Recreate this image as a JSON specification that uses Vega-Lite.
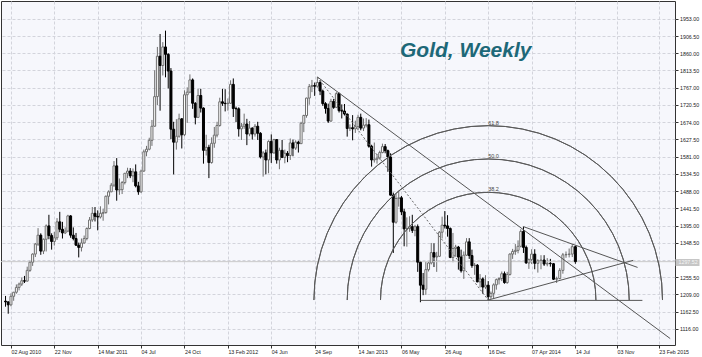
{
"$schema": "https://vega.github.io/schema/vega-lite/v6.json",
"width": 674, "height": 344,
"autosize": {"type": "none"},
"padding": {"left": 1, "top": 1, "right": 27, "bottom": 12},
"background": "#ffffff",
"config": {"view": {"stroke": "#333333", "strokeWidth": 1, "fill": "#f6f7fc"}, "font": "Liberation Sans", "axis": {"labelOverlap": false}},
"title": {"text": "Gold, Weekly", "anchor": "start", "frame": "group", "orient": "top", "offset": 0, "dx": 399, "dy": 77, "baseline": "alphabetic", "font": "Liberation Sans", "fontSize": 21, "fontWeight": "bold", "fontStyle": "italic", "color": "#1d6878"},
"resolve": {"scale": {"y": "independent"}, "axis": {"y": "independent"}},
"datasets": {
"candles": [
{"d":"2010-07-19","o":1191,"h":1205,"l":1176,"c":1189},
{"d":"2010-07-26","o":1189,"h":1190,"l":1157,"c":1181},
{"d":"2010-08-02","o":1181,"h":1212,"l":1177,"c":1204},
{"d":"2010-08-09","o":1204,"h":1216,"l":1192,"c":1215},
{"d":"2010-08-16","o":1215,"h":1236,"l":1211,"c":1228},
{"d":"2010-08-23","o":1228,"h":1241,"l":1220,"c":1237},
{"d":"2010-08-30","o":1237,"h":1255,"l":1232,"c":1246},
{"d":"2010-09-06","o":1246,"h":1259,"l":1240,"c":1245},
{"d":"2010-09-13","o":1245,"h":1284,"l":1244,"c":1274},
{"d":"2010-09-20","o":1274,"h":1300,"l":1270,"c":1296},
{"d":"2010-09-27","o":1296,"h":1320,"l":1286,"c":1318},
{"d":"2010-10-04","o":1318,"h":1348,"l":1310,"c":1345},
{"d":"2010-10-11","o":1345,"h":1388,"l":1340,"c":1369},
{"d":"2010-10-18","o":1369,"h":1374,"l":1316,"c":1326},
{"d":"2010-10-25","o":1326,"h":1360,"l":1318,"c":1358},
{"d":"2010-11-01","o":1358,"h":1398,"l":1325,"c":1394},
{"d":"2010-11-08","o":1394,"h":1424,"l":1358,"c":1368},
{"d":"2010-11-15","o":1368,"h":1374,"l":1330,"c":1352},
{"d":"2010-11-22","o":1352,"h":1378,"l":1341,"c":1362},
{"d":"2010-11-29","o":1362,"h":1415,"l":1356,"c":1405},
{"d":"2010-12-06","o":1405,"h":1432,"l":1377,"c":1385},
{"d":"2010-12-13","o":1385,"h":1405,"l":1360,"c":1375},
{"d":"2010-12-20","o":1375,"h":1390,"l":1372,"c":1380},
{"d":"2010-12-27","o":1380,"h":1424,"l":1377,"c":1421},
{"d":"2011-01-03","o":1421,"h":1423,"l":1362,"c":1369},
{"d":"2011-01-10","o":1369,"h":1390,"l":1355,"c":1360},
{"d":"2011-01-17","o":1360,"h":1375,"l":1340,"c":1342},
{"d":"2011-01-24","o":1342,"h":1349,"l":1309,"c":1336},
{"d":"2011-01-31","o":1336,"h":1360,"l":1325,"c":1348},
{"d":"2011-02-07","o":1348,"h":1368,"l":1346,"c":1360},
{"d":"2011-02-14","o":1360,"h":1390,"l":1355,"c":1387},
{"d":"2011-02-21","o":1387,"h":1418,"l":1385,"c":1410},
{"d":"2011-02-28","o":1410,"h":1445,"l":1405,"c":1428},
{"d":"2011-03-07","o":1428,"h":1445,"l":1406,"c":1420},
{"d":"2011-03-14","o":1420,"h":1436,"l":1382,"c":1418},
{"d":"2011-03-21","o":1418,"h":1447,"l":1414,"c":1428},
{"d":"2011-03-28","o":1428,"h":1440,"l":1408,"c":1430},
{"d":"2011-04-04","o":1430,"h":1476,"l":1427,"c":1474},
{"d":"2011-04-11","o":1474,"h":1490,"l":1452,"c":1486},
{"d":"2011-04-18","o":1486,"h":1510,"l":1485,"c":1504},
{"d":"2011-04-25","o":1504,"h":1569,"l":1499,"c":1556},
{"d":"2011-05-02","o":1556,"h":1577,"l":1462,"c":1491},
{"d":"2011-05-09","o":1491,"h":1522,"l":1478,"c":1492},
{"d":"2011-05-16","o":1492,"h":1515,"l":1480,"c":1511},
{"d":"2011-05-23","o":1511,"h":1537,"l":1506,"c":1536},
{"d":"2011-05-30","o":1536,"h":1551,"l":1523,"c":1542},
{"d":"2011-06-06","o":1542,"h":1550,"l":1523,"c":1529},
{"d":"2011-06-13","o":1529,"h":1549,"l":1512,"c":1540},
{"d":"2011-06-20","o":1540,"h":1560,"l":1498,"c":1502},
{"d":"2011-06-27","o":1502,"h":1513,"l":1478,"c":1486},
{"d":"2011-07-04","o":1486,"h":1546,"l":1483,"c":1542},
{"d":"2011-07-11","o":1542,"h":1600,"l":1540,"c":1594},
{"d":"2011-07-18","o":1594,"h":1610,"l":1582,"c":1601},
{"d":"2011-07-25","o":1601,"h":1632,"l":1598,"c":1625},
{"d":"2011-08-01","o":1625,"h":1680,"l":1610,"c":1663},
{"d":"2011-08-08","o":1663,"h":1814,"l":1662,"c":1743},
{"d":"2011-08-15","o":1743,"h":1877,"l":1720,"c":1852},
{"d":"2011-08-22","o":1852,"h":1912,"l":1705,"c":1827},
{"d":"2011-08-29","o":1827,"h":1890,"l":1800,"c":1877},
{"d":"2011-09-05","o":1877,"h":1921,"l":1795,"c":1857},
{"d":"2011-09-12","o":1857,"h":1860,"l":1765,"c":1812},
{"d":"2011-09-19","o":1812,"h":1820,"l":1628,"c":1655},
{"d":"2011-09-26","o":1655,"h":1675,"l":1533,"c":1620},
{"d":"2011-10-03","o":1620,"h":1682,"l":1600,"c":1636},
{"d":"2011-10-10","o":1636,"h":1697,"l":1632,"c":1683},
{"d":"2011-10-17","o":1683,"h":1685,"l":1603,"c":1640},
{"d":"2011-10-24","o":1640,"h":1760,"l":1636,"c":1748},
{"d":"2011-10-31","o":1748,"h":1768,"l":1672,"c":1755},
{"d":"2011-11-07","o":1755,"h":1803,"l":1752,"c":1788},
{"d":"2011-11-14","o":1788,"h":1792,"l":1710,"c":1725},
{"d":"2011-11-21","o":1725,"h":1728,"l":1668,"c":1687},
{"d":"2011-11-28","o":1687,"h":1764,"l":1686,"c":1746},
{"d":"2011-12-05","o":1746,"h":1764,"l":1700,"c":1712},
{"d":"2011-12-12","o":1712,"h":1714,"l":1562,"c":1598},
{"d":"2011-12-19","o":1598,"h":1640,"l":1584,"c":1606},
{"d":"2011-12-26","o":1606,"h":1613,"l":1523,"c":1565},
{"d":"2012-01-02","o":1565,"h":1633,"l":1562,"c":1617},
{"d":"2012-01-09","o":1617,"h":1661,"l":1605,"c":1639},
{"d":"2012-01-16","o":1639,"h":1675,"l":1633,"c":1665},
{"d":"2012-01-23","o":1665,"h":1740,"l":1662,"c":1729},
{"d":"2012-01-30","o":1729,"h":1764,"l":1718,"c":1725},
{"d":"2012-02-06","o":1725,"h":1763,"l":1703,"c":1724},
{"d":"2012-02-13","o":1724,"h":1738,"l":1705,"c":1725},
{"d":"2012-02-20","o":1725,"h":1787,"l":1724,"c":1776},
{"d":"2012-02-27","o":1776,"h":1792,"l":1688,"c":1711},
{"d":"2012-03-05","o":1711,"h":1716,"l":1674,"c":1710},
{"d":"2012-03-12","o":1710,"h":1714,"l":1635,"c":1656},
{"d":"2012-03-19","o":1656,"h":1672,"l":1626,"c":1663},
{"d":"2012-03-26","o":1663,"h":1697,"l":1656,"c":1669},
{"d":"2012-04-02","o":1669,"h":1683,"l":1612,"c":1642},
{"d":"2012-04-09","o":1642,"h":1677,"l":1636,"c":1658},
{"d":"2012-04-16","o":1658,"h":1660,"l":1627,"c":1642},
{"d":"2012-04-23","o":1642,"h":1669,"l":1635,"c":1663},
{"d":"2012-04-30","o":1663,"h":1675,"l":1626,"c":1644},
{"d":"2012-05-07","o":1644,"h":1647,"l":1576,"c":1580},
{"d":"2012-05-14","o":1580,"h":1596,"l":1527,"c":1591},
{"d":"2012-05-21","o":1591,"h":1600,"l":1533,"c":1572},
{"d":"2012-05-28","o":1572,"h":1625,"l":1536,"c":1622},
{"d":"2012-06-04","o":1622,"h":1641,"l":1564,"c":1591},
{"d":"2012-06-11","o":1591,"h":1629,"l":1589,"c":1627},
{"d":"2012-06-18","o":1627,"h":1628,"l":1562,"c":1572},
{"d":"2012-06-25","o":1572,"h":1605,"l":1547,"c":1598},
{"d":"2012-07-02","o":1598,"h":1626,"l":1577,"c":1579},
{"d":"2012-07-09","o":1579,"h":1600,"l":1563,"c":1590},
{"d":"2012-07-16","o":1590,"h":1596,"l":1566,"c":1584},
{"d":"2012-07-23","o":1584,"h":1630,"l":1572,"c":1618},
{"d":"2012-07-30","o":1618,"h":1627,"l":1582,"c":1604},
{"d":"2012-08-06","o":1604,"h":1625,"l":1599,"c":1620},
{"d":"2012-08-13","o":1620,"h":1624,"l":1592,"c":1616},
{"d":"2012-08-20","o":1616,"h":1675,"l":1615,"c":1671},
{"d":"2012-08-27","o":1671,"h":1694,"l":1647,"c":1692},
{"d":"2012-09-03","o":1692,"h":1740,"l":1686,"c":1739},
{"d":"2012-09-10","o":1739,"h":1777,"l":1721,"c":1770},
{"d":"2012-09-17","o":1770,"h":1788,"l":1755,"c":1773},
{"d":"2012-09-24","o":1773,"h":1781,"l":1745,"c":1771},
{"d":"2012-10-01","o":1771,"h":1796,"l":1767,"c":1781},
{"d":"2012-10-08","o":1781,"h":1787,"l":1747,"c":1758},
{"d":"2012-10-15","o":1758,"h":1762,"l":1718,"c":1724},
{"d":"2012-10-22","o":1724,"h":1728,"l":1697,"c":1711},
{"d":"2012-10-29","o":1711,"h":1724,"l":1672,"c":1677},
{"d":"2012-11-05","o":1677,"h":1737,"l":1675,"c":1730},
{"d":"2012-11-12","o":1730,"h":1737,"l":1710,"c":1714},
{"d":"2012-11-19","o":1714,"h":1755,"l":1712,"c":1751},
{"d":"2012-11-26","o":1751,"h":1754,"l":1700,"c":1705},
{"d":"2012-12-03","o":1705,"h":1722,"l":1684,"c":1704},
{"d":"2012-12-10","o":1704,"h":1723,"l":1692,"c":1696},
{"d":"2012-12-17","o":1696,"h":1697,"l":1635,"c":1657},
{"d":"2012-12-24","o":1657,"h":1668,"l":1650,"c":1659},
{"d":"2012-12-31","o":1659,"h":1693,"l":1625,"c":1656},
{"d":"2013-01-07","o":1656,"h":1678,"l":1645,"c":1662},
{"d":"2013-01-14","o":1662,"h":1694,"l":1652,"c":1687},
{"d":"2013-01-21","o":1687,"h":1697,"l":1652,"c":1658},
{"d":"2013-01-28","o":1658,"h":1684,"l":1650,"c":1666},
{"d":"2013-02-04","o":1666,"h":1685,"l":1660,"c":1667},
{"d":"2013-02-11","o":1667,"h":1681,"l":1605,"c":1609},
{"d":"2013-02-18","o":1609,"h":1613,"l":1554,"c":1572},
{"d":"2013-02-25","o":1572,"h":1619,"l":1565,"c":1574},
{"d":"2013-03-04","o":1574,"h":1588,"l":1562,"c":1577},
{"d":"2013-03-11","o":1577,"h":1597,"l":1573,"c":1592},
{"d":"2013-03-18","o":1592,"h":1616,"l":1590,"c":1608},
{"d":"2013-03-25","o":1608,"h":1615,"l":1590,"c":1597},
{"d":"2013-04-01","o":1597,"h":1600,"l":1540,"c":1580},
{"d":"2013-04-08","o":1580,"h":1590,"l":1476,"c":1477},
{"d":"2013-04-15","o":1477,"h":1484,"l":1321,"c":1404},
{"d":"2013-04-22","o":1404,"h":1480,"l":1400,"c":1468},
{"d":"2013-04-29","o":1468,"h":1488,"l":1446,"c":1470},
{"d":"2013-05-06","o":1470,"h":1475,"l":1423,"c":1432},
{"d":"2013-05-13","o":1432,"h":1440,"l":1339,"c":1386},
{"d":"2013-05-20","o":1386,"h":1417,"l":1338,"c":1387},
{"d":"2013-05-27","o":1387,"h":1420,"l":1378,"c":1392},
{"d":"2013-06-03","o":1392,"h":1424,"l":1375,"c":1382},
{"d":"2013-06-10","o":1382,"h":1397,"l":1366,"c":1392},
{"d":"2013-06-17","o":1392,"h":1398,"l":1270,"c":1296},
{"d":"2013-06-24","o":1296,"h":1298,"l":1188,"c":1234},
{"d":"2013-07-01","o":1234,"h":1267,"l":1207,"c":1223},
{"d":"2013-07-08","o":1223,"h":1297,"l":1208,"c":1276},
{"d":"2013-07-15","o":1276,"h":1298,"l":1271,"c":1294},
{"d":"2013-07-22","o":1294,"h":1348,"l":1290,"c":1322},
{"d":"2013-07-29","o":1322,"h":1347,"l":1283,"c":1310},
{"d":"2013-08-05","o":1310,"h":1324,"l":1270,"c":1312},
{"d":"2013-08-12","o":1312,"h":1380,"l":1310,"c":1377},
{"d":"2013-08-19","o":1377,"h":1419,"l":1360,"c":1396},
{"d":"2013-08-26","o":1396,"h":1434,"l":1387,"c":1394},
{"d":"2013-09-02","o":1394,"h":1423,"l":1365,"c":1387},
{"d":"2013-09-09","o":1387,"h":1390,"l":1307,"c":1309},
{"d":"2013-09-16","o":1309,"h":1375,"l":1296,"c":1333},
{"d":"2013-09-23","o":1333,"h":1343,"l":1311,"c":1337},
{"d":"2013-09-30","o":1337,"h":1340,"l":1276,"c":1310},
{"d":"2013-10-07","o":1310,"h":1330,"l":1268,"c":1273},
{"d":"2013-10-14","o":1273,"h":1325,"l":1251,"c":1315},
{"d":"2013-10-21","o":1315,"h":1361,"l":1313,"c":1351},
{"d":"2013-10-28","o":1351,"h":1361,"l":1305,"c":1314},
{"d":"2013-11-04","o":1314,"h":1330,"l":1281,"c":1287},
{"d":"2013-11-11","o":1287,"h":1294,"l":1262,"c":1288},
{"d":"2013-11-18","o":1288,"h":1291,"l":1242,"c":1243},
{"d":"2013-11-25","o":1243,"h":1264,"l":1228,"c":1251},
{"d":"2013-12-02","o":1251,"h":1255,"l":1211,"c":1229},
{"d":"2013-12-09","o":1229,"h":1261,"l":1224,"c":1234},
{"d":"2013-12-16","o":1234,"h":1245,"l":1194,"c":1203},
{"d":"2013-12-23","o":1203,"h":1217,"l":1197,"c":1212},
{"d":"2013-12-30","o":1212,"h":1239,"l":1199,"c":1235},
{"d":"2014-01-06","o":1235,"h":1252,"l":1222,"c":1249},
{"d":"2014-01-13","o":1249,"h":1255,"l":1236,"c":1252},
{"d":"2014-01-20","o":1252,"h":1271,"l":1245,"c":1265},
{"d":"2014-01-27","o":1265,"h":1271,"l":1238,"c":1241},
{"d":"2014-02-03","o":1241,"h":1270,"l":1238,"c":1263},
{"d":"2014-02-10","o":1263,"h":1320,"l":1260,"c":1318},
{"d":"2014-02-17","o":1318,"h":1332,"l":1305,"c":1325},
{"d":"2014-02-24","o":1325,"h":1345,"l":1316,"c":1328},
{"d":"2014-03-03","o":1328,"h":1355,"l":1320,"c":1339},
{"d":"2014-03-10","o":1339,"h":1385,"l":1336,"c":1379},
{"d":"2014-03-17","o":1379,"h":1392,"l":1321,"c":1336},
{"d":"2014-03-24","o":1336,"h":1341,"l":1292,"c":1294},
{"d":"2014-03-31","o":1294,"h":1306,"l":1278,"c":1303},
{"d":"2014-04-07","o":1303,"h":1331,"l":1291,"c":1318},
{"d":"2014-04-14","o":1318,"h":1331,"l":1277,"c":1293},
{"d":"2014-04-21","o":1293,"h":1304,"l":1268,"c":1300},
{"d":"2014-04-28","o":1300,"h":1315,"l":1277,"c":1302},
{"d":"2014-05-05","o":1302,"h":1315,"l":1286,"c":1291},
{"d":"2014-05-12","o":1291,"h":1307,"l":1285,"c":1293},
{"d":"2014-05-19","o":1293,"h":1305,"l":1284,"c":1292},
{"d":"2014-05-26","o":1292,"h":1294,"l":1248,"c":1250},
{"d":"2014-06-02","o":1250,"h":1257,"l":1240,"c":1252},
{"d":"2014-06-09","o":1252,"h":1280,"l":1250,"c":1274},
{"d":"2014-06-16","o":1274,"h":1321,"l":1265,"c":1316},
{"d":"2014-06-23","o":1316,"h":1325,"l":1308,"c":1317},
{"d":"2014-06-30","o":1317,"h":1333,"l":1309,"c":1318},
{"d":"2014-07-07","o":1318,"h":1345,"l":1310,"c":1338},
{"d":"2014-07-14","o":1338,"h":1341,"l":1292,"c":1297.52}
],
"trend": [
{"id":"resistance","d":"2012-10-01","p":1796},
{"id":"resistance","d":"2015-03-25T16:00:00Z","p":1090},
{"id":"upper","d":"2014-03-17","p":1392},
{"id":"upper","d":"2014-12-28","p":1282},
{"id":"lower","d":"2013-12-16","p":1194},
{"id":"lower","d":"2014-12-16","p":1301},
{"id":"support","d":"2013-06-24","p":1193},
{"id":"support","d":"2015-01-10","p":1193}
],
"fibline": [
{"d":"2012-10-01","p":1796},
{"d":"2013-12-16","p":1194}
],
"arcs": [
{"level":0.382,"label":"38.2","d":"2013-12-16","p":1194,"lp":1487},
{"level":0.5,"label":"50.0","d":"2013-12-16","p":1194,"lp":1577},
{"level":0.618,"label":"61.8","d":"2013-12-16","p":1194,"lp":1666}
],
"price": [{"p":1297.52}]
},
"layer": [
{
"data": {"name": "candles", "format": {"parse": {"d": "date"}}},
"mark": {"type": "rule", "strokeWidth": 1, "clip": true},
"encoding": {
"x": {"field": "d", "type": "quantitative", "title": null,
"scale": {"type": "linear", "nice": false, "zero": false,
"domain": [1279602576000, 1396828800000, 1405296000000, 1427300784000],
"range": [0, 530.6, 574.4, 674]},
"axis": {"title": null,
"values": [1280707200000, 1290384000000, 1300060800000, 1309737600000, 1319414400000, 1329091200000, 1338768000000, 1348444800000, 1358121600000, 1367798400000, 1377475200000, 1387152000000, 1396828800000, 1405296000000, 1414972800000, 1424649600000],
"labelExpr": "(utcyear(datum.value) != utcyear(datum.value - 112*86400000) || datum.value < 1281000000000) ? utcFormat(datum.value, '%d %b %Y') : utcFormat(datum.value, '%d %b')",
"grid": true, "gridColor": "#d3d4dc", "gridDash": [3, 2], "gridWidth": 1,
"domain": false, "ticks": true, "tickSize": 3, "tickColor": "#333333",
"labelAlign": "left", "labelBaseline": "top", "labelPadding": 1, "labelFontSize": 5.3, "labelColor": "#222222",
"labelFont": "Liberation Sans", "labelOverlap": false, "labelFlush": false, "labelBound": false}},
"y": {"field": "l", "type": "quantitative", "title": null,
"scale": {"domain": [1072.6, 2001.0], "zero": false, "nice": false},
"axis": {"title": null, "orient": "right",
"values": [1116, 1162.5, 1209, 1255.5, 1302, 1348.5, 1395, 1441.5, 1488, 1534.5, 1581, 1627.5, 1674, 1720.5, 1767, 1813.5, 1860, 1906.5, 1953],
"labelExpr": "datum.value == 1302 ? '' : format(datum.value, '.2f')",
"grid": true, "gridColor": "#d3d4dc", "gridDash": [3, 2], "gridWidth": 1,
"domain": false, "ticks": true, "tickSize": 3, "tickColor": "#333333",
"labelAlign": "left", "labelBaseline": "middle", "labelPadding": 1.5, "labelFontSize": 5.3, "labelColor": "#222222",
"labelFont": "Liberation Sans", "labelOverlap": false, "labelFlush": false, "labelBound": false}},
"y2": {"field": "h"},
"stroke": {"condition": {"test": "datum.c < datum.o", "value": "#000000"}, "value": "#6e6e6e"}
}
},
{
"data": {"name": "price"},
"mark": {"type": "rule", "stroke": "#c9c9c9", "strokeWidth": 1},
"encoding": {"y": {"field": "p", "type": "quantitative", "title": null,
"scale": {"domain": [1072.6, 2001.0], "zero": false, "nice": false},
"axis": {"title": null, "orient": "right", "values": [1297.52], "format": ".2f",
"grid": false, "domain": false, "ticks": true, "tickSize": 24, "tickWidth": 7, "tickColor": "#c6c6c6",
"labelAlign": "left", "labelBaseline": "middle", "labelPadding": -21, "labelFontSize": 5.3, "labelColor": "#f6f6f6",
"labelFont": "Liberation Sans", "labelOverlap": false, "labelFlush": false, "labelBound": false, "zindex": 1}}}
},
{
"data": {"name": "candles", "format": {"parse": {"d": "date"}}},
"mark": {"type": "bar", "size": 2, "strokeWidth": 1, "clip": true},
"encoding": {
"x": {"field": "d", "type": "quantitative", "title": null},
"y": {"field": "o", "type": "quantitative", "title": null, "scale": {"domain": [1072.6, 2001.0], "zero": false, "nice": false}, "axis": null},
"y2": {"field": "c"},
"fill": {"condition": {"test": "datum.c < datum.o", "value": "#000000"}, "value": "#ffffff"},
"stroke": {"condition": {"test": "datum.c < datum.o", "value": "#000000"}, "value": "#6e6e6e"}
}
},
{
"data": {"name": "fibline", "format": {"parse": {"d": "date"}}},
"mark": {"type": "line", "stroke": "#666666", "strokeWidth": 1, "strokeDash": [2, 2]},
"encoding": {
"x": {"field": "d", "type": "quantitative", "title": null},
"y": {"field": "p", "type": "quantitative", "title": null, "scale": {"domain": [1072.6, 2001.0], "zero": false, "nice": false}, "axis": null}
}
},
{
"data": {"name": "trend", "format": {"parse": {"d": "date"}}},
"mark": {"type": "line", "stroke": "#555555", "strokeWidth": 1, "clip": true},
"encoding": {
"x": {"field": "d", "type": "quantitative", "title": null},
"y": {"field": "p", "type": "quantitative", "title": null, "scale": {"domain": [1072.6, 2001.0], "zero": false, "nice": false}, "axis": null},
"detail": {"field": "id"}
}
},
{
"data": {"name": "arcs", "format": {"parse": {"d": "date"}}},
"transform": [{"filter": "datum.level == 0.382"}],
"mark": {"type": "arc", "theta": -1.5708, "theta2": 1.5708, "radius": 107.7, "radius2": 107.7, "filled": false, "fill": null, "stroke": "#5a5a5a", "strokeWidth": 1},
"encoding": {
"x": {"field": "d", "type": "quantitative", "title": null},
"y": {"field": "p", "type": "quantitative", "title": null, "scale": {"domain": [1072.6, 2001.0], "zero": false, "nice": false}, "axis": null}
}
},
{
"data": {"name": "arcs", "format": {"parse": {"d": "date"}}},
"transform": [{"filter": "datum.level == 0.5"}],
"mark": {"type": "arc", "theta": -1.5708, "theta2": 1.5708, "radius": 141, "radius2": 141, "filled": false, "fill": null, "stroke": "#5a5a5a", "strokeWidth": 1},
"encoding": {
"x": {"field": "d", "type": "quantitative", "title": null},
"y": {"field": "p", "type": "quantitative", "title": null, "scale": {"domain": [1072.6, 2001.0], "zero": false, "nice": false}, "axis": null}
}
},
{
"data": {"name": "arcs", "format": {"parse": {"d": "date"}}},
"transform": [{"filter": "datum.level == 0.618"}],
"mark": {"type": "arc", "theta": -1.5708, "theta2": 1.5708, "radius": 174.3, "radius2": 174.3, "filled": false, "fill": null, "stroke": "#5a5a5a", "strokeWidth": 1},
"encoding": {
"x": {"field": "d", "type": "quantitative", "title": null},
"y": {"field": "p", "type": "quantitative", "title": null, "scale": {"domain": [1072.6, 2001.0], "zero": false, "nice": false}, "axis": null}
}
},
{
"data": {"name": "arcs", "format": {"parse": {"d": "date"}}},
"mark": {"type": "text", "align": "left", "baseline": "alphabetic", "fontSize": 5.5, "fill": "#444444", "font": "Liberation Sans"},
"encoding": {
"x": {"field": "d", "type": "quantitative", "title": null},
"y": {"field": "lp", "type": "quantitative", "title": null, "scale": {"domain": [1072.6, 2001.0], "zero": false, "nice": false}, "axis": null},
"text": {"field": "label"}
}
}
]
}
